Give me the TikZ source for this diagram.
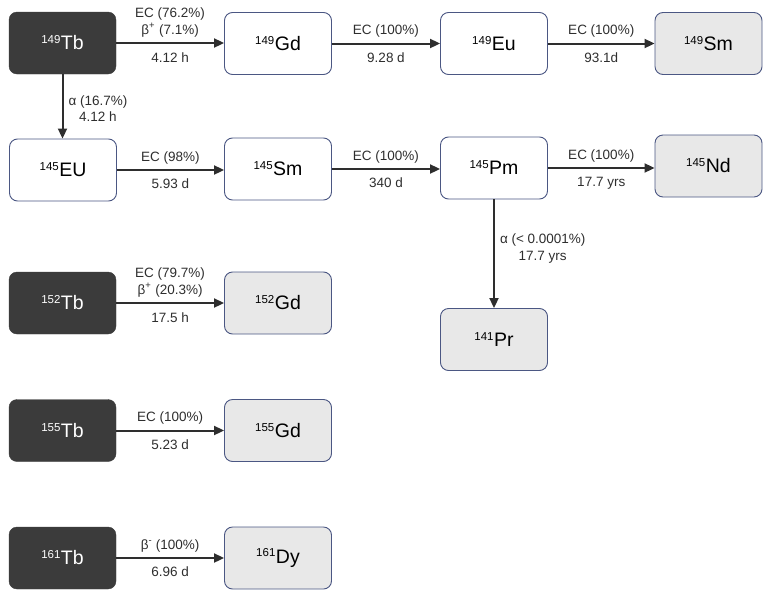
\documentclass[tikz,border=0pt]{standalone}
\usepackage{fontspec}
\setmainfont{Liberation Sans}
\usepackage{tikz}
\usetikzlibrary{arrows.meta}
\usetikzlibrary{positioning}
\definecolor{boxdark}{HTML}{3B3B3B}
\definecolor{boxgray}{HTML}{E8E8E8}
\definecolor{boxline}{HTML}{4B5783}
\definecolor{inkgray}{HTML}{2E2E2E}
\newcommand{\iso}[2]{\raisebox{6pt}{\fontsize{11.5}{11.5}\selectfont #1}\kern0.5pt#2}
\tikzset{
    >={Triangle[length=10pt,width=9pt]},
    nuclide/.style={rounded corners=8pt, minimum width=107pt, minimum height=62pt,
        font=\fontsize{19.5}{19.5}\selectfont, inner sep=0pt},
    parent/.style={nuclide, fill=boxdark, draw=boxdark, text=white},
    daughter/.style={nuclide, fill=white, draw=boxline, line width=0.9pt, text=black},
    stable/.style={nuclide, fill=boxgray, draw=boxline, line width=0.9pt, text=black},
    decay/.style={->, draw=inkgray, line width=2pt},
    rate/.style={font=\fontsize{13.5}{16.5}\selectfont, text=inkgray, align=center, inner sep=2pt},
}

\begin{document}
\begin{tikzpicture}[x=1pt, y=-1pt]
\useasboundingbox (0,0) rectangle (771,600);
% 149Tb chain
\node[parent] (tb149) at (62.5,43) {\iso{149}{Tb}};
\node[daughter] (gd149) at (278,43.5) {\iso{149}{Gd}};
\node[daughter] (eu149) at (494,43.5) {\iso{149}{Eu}};
\node[stable] (sm149) at (708.5,43.5) {\iso{149}{Sm}};
\node[daughter] (eu145) at (63,170) {\iso{145}{EU}};
\node[daughter] (sm145) at (278,169) {\iso{145}{Sm}};
\node[daughter] (pm145) at (494,168) {\iso{145}{Pm}};
\node[stable] (nd145) at (708.5,166) {\iso{145}{Nd}};
\node[stable] (pr141) at (494,339.5) {\iso{141}{Pr}};
% other Tb isotopes
\node[parent] (tb152) at (62.5,303) {\iso{152}{Tb}};
\node[stable] (gd152) at (278,303) {\iso{152}{Gd}};
\node[parent] (tb155) at (62.5,430.5) {\iso{155}{Tb}};
\node[stable] (gd155) at (278,430.5) {\iso{155}{Gd}};
\node[parent] (tb161) at (62.5,558) {\iso{161}{Tb}};
\node[stable] (dy161) at (278,558) {\iso{161}{Dy}};

\draw[decay] (tb149.east) -- (tb149.east -| gd149.west)
    node[rate, midway, above=3pt] {EC (76.2\%)\\β\textsuperscript{+} (7.1\%)}
    node[rate, midway, below=7pt] {4.12 h};
\draw[decay] (gd149) -- (eu149)
    node[rate, midway, above=3pt] {EC (100\%)}
    node[rate, midway, below=6pt] {9.28 d};
\draw[decay] (eu149) -- (sm149)
    node[rate, midway, above=3pt] {EC (100\%)}
    node[rate, midway, below=6pt] {93.1d};
\draw[decay] (tb149.south) -- (tb149.south |- eu145.north)
    node[rate, midway, right=3pt, yshift=-2pt] {α (16.7\%)\\4.12 h};
\draw[decay] (eu145.east) -- (eu145.east -| sm145.west)
    node[rate, midway, above=3pt] {EC (98\%)}
    node[rate, midway, below=6pt] {5.93 d};
\draw[decay] (sm145.east) -- (sm145.east -| pm145.west)
    node[rate, midway, above=3pt] {EC (100\%)}
    node[rate, midway, below=6pt] {340 d};
\draw[decay] (pm145.east) -- (pm145.east -| nd145.west)
    node[rate, midway, above=3pt] {EC (100\%)}
    node[rate, midway, below=6pt] {17.7 yrs};
\draw[decay] (pm145) -- (pr141)
    node[rate, pos=0.45, right=3pt] {α (< 0.0001\%)\\17.7 yrs};
\draw[decay] (tb152) -- (gd152)
    node[rate, midway, above=3pt] {EC (79.7\%)\\β\textsuperscript{+} (20.3\%)}
    node[rate, midway, below=7pt] {17.5 h};
\draw[decay] (tb155) -- (gd155)
    node[rate, midway, above=3pt] {EC (100\%)}
    node[rate, midway, below=6pt] {5.23 d};
\draw[decay] (tb161) -- (dy161)
    node[rate, midway, above=3pt] {β\textsuperscript{-} (100\%)}
    node[rate, midway, below=6pt] {6.96 d};
\end{tikzpicture}
\end{document}
